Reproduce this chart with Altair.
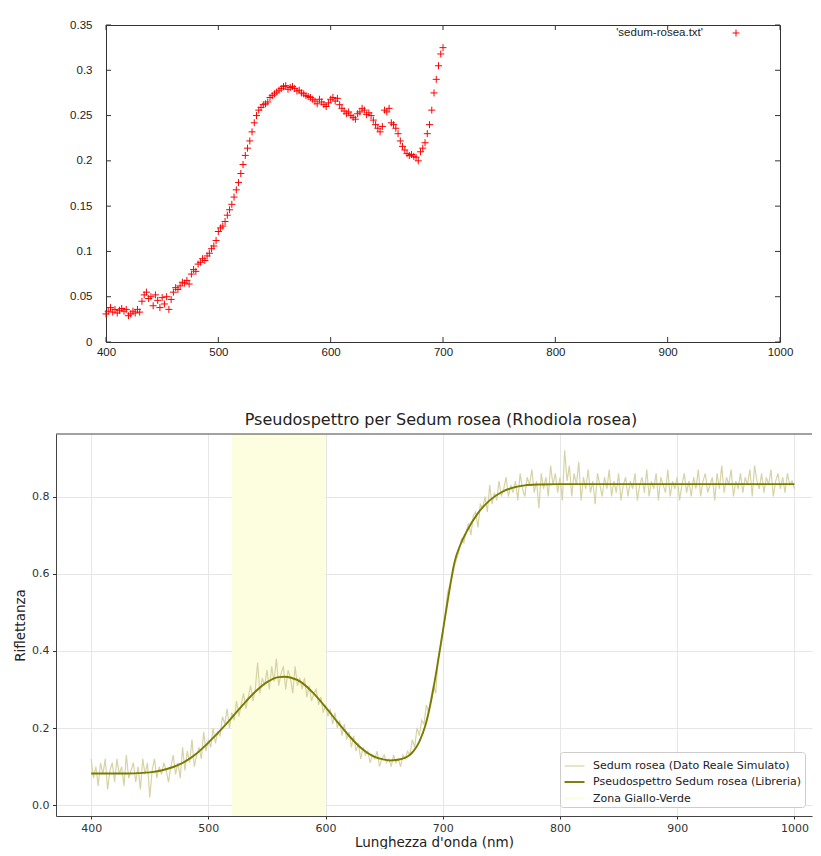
import altair as alt
import pandas as pd

# ---------------- top panel (gnuplot scatter) ----------------
top_wl = list(range(400, 701, 2))
top_refl = [
    0.031, 0.034, 0.038, 0.033, 0.036, 0.032, 0.035, 0.037, 0.034, 0.036,
    0.029, 0.031, 0.034, 0.032, 0.036, 0.033, 0.045, 0.052, 0.055, 0.048,
    0.050, 0.040, 0.052, 0.046, 0.038, 0.049, 0.042, 0.050, 0.036, 0.047,
    0.055, 0.060, 0.058, 0.062, 0.066, 0.065, 0.068, 0.064, 0.075, 0.080,
    0.078, 0.086, 0.088, 0.092, 0.090, 0.095, 0.098, 0.103, 0.106, 0.112,
    0.122, 0.126, 0.128, 0.133, 0.140, 0.146, 0.152, 0.160, 0.168, 0.176,
    0.186, 0.196, 0.206, 0.214, 0.222, 0.232, 0.242, 0.250, 0.256, 0.259,
    0.262, 0.263, 0.265, 0.270, 0.272, 0.274, 0.276, 0.278, 0.280, 0.282,
    0.283, 0.279, 0.281, 0.282, 0.280, 0.277, 0.278, 0.275, 0.274, 0.272,
    0.271, 0.270, 0.268, 0.266, 0.263, 0.268, 0.265, 0.262, 0.260, 0.264,
    0.268, 0.270, 0.266, 0.269, 0.262, 0.258, 0.255, 0.252, 0.254, 0.250,
    0.248, 0.246, 0.252, 0.254, 0.258, 0.256, 0.251, 0.253, 0.250, 0.245,
    0.240, 0.236, 0.232, 0.238, 0.256, 0.254, 0.258, 0.242, 0.240, 0.236,
    0.230, 0.222, 0.216, 0.212, 0.208, 0.206, 0.207, 0.205, 0.204, 0.200,
    0.210, 0.214, 0.220, 0.230, 0.240, 0.256, 0.275, 0.290, 0.305, 0.318,
    0.325,
]
top_key = ["'sedum-rosea.txt'"]
top_x_ticks = [400, 500, 600, 700, 800, 900, 1000]
top_y_ticks = [0, 0.05, 0.1, 0.15, 0.2, 0.25, 0.3, 0.35]

# ---------------- bottom panel (pseudo-spectrum) ----------------
noisy_wl = list(range(400, 1001, 2))
noisy_refl = [
    0.12, 0.07, 0.10, 0.05, 0.11, 0.08, 0.12, 0.04, 0.09, 0.11,
    0.06, 0.12, 0.08, 0.10, 0.05, 0.13, 0.07, 0.09, 0.11, 0.06,
    0.10, 0.04, 0.12, 0.08, 0.11, 0.02, 0.09, 0.12, 0.07, 0.10,
    0.08, 0.11, 0.09, 0.06, 0.10, 0.13, 0.08, 0.11, 0.07, 0.15,
    0.09, 0.14, 0.11, 0.17, 0.10, 0.13, 0.15, 0.12, 0.19, 0.14,
    0.17, 0.15, 0.20, 0.16, 0.19, 0.18, 0.23, 0.21, 0.25, 0.20,
    0.24, 0.22, 0.27, 0.23, 0.26, 0.29, 0.25, 0.28, 0.31, 0.27,
    0.30, 0.37, 0.29, 0.33, 0.31, 0.35, 0.30, 0.36, 0.32, 0.38,
    0.31, 0.34, 0.36, 0.30, 0.35, 0.33, 0.29, 0.36, 0.31, 0.33,
    0.30, 0.33, 0.28, 0.31, 0.27, 0.29, 0.30, 0.26, 0.28, 0.24,
    0.26, 0.23, 0.25, 0.21, 0.24, 0.20, 0.22, 0.18, 0.21, 0.17,
    0.19, 0.15, 0.18, 0.14, 0.16, 0.12, 0.15, 0.13, 0.14, 0.11,
    0.13, 0.12, 0.14, 0.10, 0.12, 0.13, 0.11, 0.12, 0.10, 0.13,
    0.11, 0.12, 0.10, 0.13, 0.12, 0.14, 0.13, 0.17, 0.15, 0.20,
    0.18, 0.22, 0.21, 0.26, 0.24, 0.28, 0.31, 0.29, 0.38, 0.41,
    0.45, 0.49, 0.55, 0.57, 0.59, 0.62, 0.64, 0.66, 0.69, 0.68,
    0.71, 0.73, 0.70, 0.75, 0.76, 0.72, 0.78, 0.77, 0.80, 0.76,
    0.83, 0.78, 0.81, 0.79, 0.84, 0.80, 0.82, 0.85, 0.80, 0.83,
    0.81, 0.84, 0.79, 0.86, 0.82, 0.80, 0.85, 0.83, 0.87, 0.81,
    0.84, 0.77, 0.86, 0.82, 0.85, 0.80, 0.88, 0.83, 0.86, 0.81,
    0.85, 0.79, 0.92, 0.84, 0.88, 0.80, 0.86, 0.83, 0.89, 0.79,
    0.85, 0.82, 0.87, 0.81, 0.84, 0.78, 0.86, 0.83, 0.80, 0.85,
    0.82, 0.87, 0.80, 0.84, 0.81, 0.86, 0.79, 0.83, 0.85, 0.80,
    0.84, 0.82, 0.86, 0.79, 0.83, 0.85, 0.81, 0.87, 0.80, 0.84,
    0.82, 0.86, 0.79, 0.85, 0.83, 0.81, 0.87, 0.80, 0.84, 0.82,
    0.85, 0.79, 0.83, 0.86, 0.81, 0.84, 0.80, 0.85, 0.82, 0.87,
    0.80, 0.84, 0.86, 0.81, 0.83, 0.85, 0.79, 0.86, 0.82, 0.88,
    0.81, 0.85, 0.83, 0.87, 0.80, 0.84, 0.82, 0.86, 0.81, 0.85,
    0.83, 0.87, 0.80, 0.88, 0.84, 0.82, 0.86, 0.81, 0.85, 0.83,
    0.87, 0.80, 0.84, 0.86, 0.82, 0.85, 0.81, 0.86, 0.83, 0.84,
    0.82,
]
smooth_wl = [400, 410, 420, 430, 440, 450, 460, 470, 480, 490, 500, 510, 520,
             530, 540, 550, 560, 565, 570, 580, 590, 600, 610, 620, 630, 640,
             650, 655, 660, 665, 670, 675, 680, 685, 690, 695, 700, 705, 710,
             715, 720, 730, 740, 750, 760, 770, 780, 800, 850, 900, 950, 1000]
smooth_refl = [0.082, 0.082, 0.082, 0.082, 0.083, 0.085, 0.090, 0.099, 0.113,
               0.134, 0.162, 0.193, 0.227, 0.262, 0.294, 0.319, 0.332, 0.333,
               0.331, 0.317, 0.289, 0.254, 0.216, 0.180, 0.149, 0.128, 0.118,
               0.116, 0.117, 0.120, 0.126, 0.140, 0.165, 0.205, 0.270, 0.355,
               0.450, 0.545, 0.630, 0.675, 0.707, 0.757, 0.790, 0.811, 0.823,
               0.829, 0.831, 0.832, 0.832, 0.832, 0.832, 0.832]
zone_start = [520]
zone_end = [600]
series_labels = ["Sedum rosea (Dato Reale Simulato)",
                 "Pseudospettro Sedum rosea (Libreria)",
                 "Zona Giallo-Verde"]
bottom_x_ticks = [400, 500, 600, 700, 800, 900, 1000]
bottom_y_ticks = [0.0, 0.2, 0.4, 0.6, 0.8]

GP_FONT = "Liberation Sans"
MPL_FONT = "DejaVu Sans"
PLUS = "M-1,0L1,0M0,-1L0,1"
TOP_W, TOP_H = 674, 317

# ---------------- build top ----------------
top_df = pd.DataFrame({"wl": top_wl, "r": top_refl})
key_df = pd.DataFrame({"label": top_key})
xt_df = pd.DataFrame({"wl": top_x_ticks})
yt_df = pd.DataFrame({"r": top_y_ticks})

tx_scale = alt.Scale(domain=[400, 1000], nice=False)
ty_scale = alt.Scale(domain=[0, 0.35], nice=False, zero=False)
tx_axis = alt.Axis(values=top_x_ticks, title=None, ticks=False, domain=False,
                   grid=False, labelPadding=4, labelFlush=False,
                   labelFont=GP_FONT, labelFontSize=11.5, labelColor="#222",
                   format="d")
ty_axis = alt.Axis(values=top_y_ticks, title=None, ticks=False, domain=False,
                   grid=False, labelPadding=14, labelFont=GP_FONT,
                   labelFontSize=11.5, labelColor="#222", format="~g")

top_points = alt.Chart(top_df).mark_point(
    shape=PLUS, size=49, filled=False, color="#ff0000", strokeWidth=1, opacity=1
).encode(
    x=alt.X("wl:Q", scale=tx_scale, axis=tx_axis),
    y=alt.Y("r:Q", scale=ty_scale, axis=ty_axis),
)
tick_style = dict(color="#333333", strokeWidth=1)
xt_bottom = alt.Chart(xt_df).mark_rule(**tick_style).encode(
    x=alt.X("wl:Q", scale=tx_scale, axis=tx_axis),
    y=alt.value(TOP_H), y2=alt.value(TOP_H - 5))
xt_top = alt.Chart(xt_df).mark_rule(**tick_style).encode(
    x=alt.X("wl:Q", scale=tx_scale, axis=tx_axis),
    y=alt.value(0), y2=alt.value(5))
yt_left = alt.Chart(yt_df).mark_rule(**tick_style).encode(
    y=alt.Y("r:Q", scale=ty_scale, axis=ty_axis),
    x=alt.value(0), x2=alt.value(5))
yt_right = alt.Chart(yt_df).mark_rule(**tick_style).encode(
    y=alt.Y("r:Q", scale=ty_scale, axis=ty_axis),
    x=alt.value(TOP_W), x2=alt.value(TOP_W - 5))

top_key_text = alt.Chart(key_df).mark_text(
    align="right", baseline="middle", font=GP_FONT, fontSize=11.5, color="#222"
).encode(x=alt.value(597), y=alt.value(8), text="label:N")
top_key_sym = alt.Chart(key_df).mark_point(
    shape=PLUS, size=49, filled=False, color="#ff0000", strokeWidth=1, opacity=1
).encode(x=alt.value(630), y=alt.value(8))

top = alt.layer(top_points, xt_bottom, xt_top, yt_left, yt_right,
                top_key_text, top_key_sym).properties(
    width=TOP_W, height=TOP_H,
    view=alt.ViewBackground(stroke="#333333", strokeWidth=1),
)

spacer = alt.Chart(key_df).mark_point(opacity=0).properties(
    width=13, height=10, view=alt.ViewBackground(strokeOpacity=0)
)
top_row = alt.hconcat(spacer, top, spacing=0)

# ---------------- build bottom ----------------
noisy_df = pd.DataFrame({"wl": noisy_wl, "r": noisy_refl, "serie": series_labels[0]})
smooth_df = pd.DataFrame({"wl": smooth_wl, "r": smooth_refl, "serie": series_labels[1]})
zone_df = pd.DataFrame({"x1": zone_start, "x2": zone_end, "serie": series_labels[2]})
frame_df = pd.DataFrame({"k": [0]})

x_scale = alt.Scale(domain=[370, 1015], nice=False, zero=False)
y_scale = alt.Scale(domain=[-0.028, 0.962], nice=False, zero=False)
x_axis = alt.Axis(values=bottom_x_ticks, title="Lunghezza d'onda (nm)", format="d",
                  grid=True, gridColor="#e6e6e6", domain=True, domainColor="#444",
                  tickSize=3, tickColor="#333", labelPadding=3.5, labelFont=MPL_FONT,
                  labelFontSize=11, labelColor="#333", titleFont=MPL_FONT,
                  titleFontSize=13.5, titleFontWeight="normal", titleColor="#222",
                  titlePadding=2)
y_axis = alt.Axis(values=bottom_y_ticks, title="Riflettanza", format=".1f",
                  grid=True, gridColor="#e6e6e6", domain=True, domainColor="#444",
                  tickSize=3.5, tickColor="#333", labelPadding=3.5, labelFont=MPL_FONT,
                  labelFontSize=11, labelColor="#333", titleFont=MPL_FONT,
                  titleFontSize=13.5, titleFontWeight="normal", titleColor="#222",
                  titlePadding=4)
color_scale = alt.Scale(domain=series_labels, range=["#d6d3a6", "#7a7a00", "#fdfde0"])
width_scale = alt.Scale(domain=series_labels, range=[1.2, 2.6, 10])
legend = alt.Legend(title=None, orient="none", legendX=504, legendY=727,
                    symbolType="stroke", symbolSize=400, labelFont=MPL_FONT,
                    labelFontSize=11, labelColor="#222", fillColor="white",
                    strokeColor="#cccccc", cornerRadius=3, padding=3,
                    rowPadding=-2, labelOffset=7, labelLimit=400, symbolOpacity=1)

zone = alt.Chart(zone_df).mark_rect(opacity=1).encode(
    x=alt.X("x1:Q", scale=x_scale, axis=x_axis),
    x2="x2:Q",
    color=alt.Color("serie:N", scale=color_scale, legend=legend),
)
noisy = alt.Chart(noisy_df).mark_line().encode(
    x=alt.X("wl:Q", scale=x_scale, axis=x_axis),
    y=alt.Y("r:Q", scale=y_scale, axis=y_axis),
    color=alt.Color("serie:N", scale=color_scale, legend=legend),
    strokeWidth=alt.StrokeWidth("serie:N", scale=width_scale, legend=legend),
)
smooth = alt.Chart(smooth_df).mark_line(interpolate="monotone").encode(
    x=alt.X("wl:Q", scale=x_scale, axis=x_axis),
    y=alt.Y("r:Q", scale=y_scale, axis=y_axis),
    color=alt.Color("serie:N", scale=color_scale, legend=legend),
    strokeWidth=alt.StrokeWidth("serie:N", scale=width_scale, legend=legend),
)
top_edge = alt.Chart(frame_df).mark_rule(color="#444", strokeWidth=1).encode(
    y=alt.value(0)
)

bottom = alt.layer(zone, noisy, smooth, top_edge).properties(
    width=756, height=382,
    title=alt.TitleParams("Pseudospettro per Sedum rosea (Rhodiola rosea)",
                          font=MPL_FONT, fontSize=16, fontWeight="normal",
                          color="#222", offset=6, anchor="middle", dx=7),
    view=alt.ViewBackground(strokeOpacity=0),
)

chart = alt.vconcat(top_row, bottom, spacing=53).properties(
    padding={"left": 5, "top": 10, "right": 0, "bottom": 0},
    background="white",
)

chart.save("out.html", embed_options={"renderer": "svg", "actions": False})
